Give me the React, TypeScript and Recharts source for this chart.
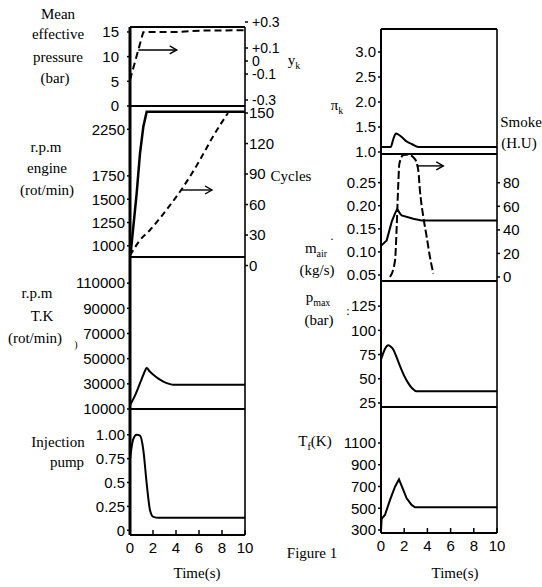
import React from 'react';
import { LineChart, Line, XAxis, YAxis, ReferenceLine } from 'recharts';

// ---------- data ----------
const timeTicks = [0, 2, 4, 6, 8, 10];

// left column
const mepTicks = [0, 5, 10, 15];
const ykTicks = [-0.3, -0.1, 0, 0.1, 0.3];
const ykLabels: Record<string, string> = { '-0.3': '-0.3', '-0.1': '-0.1', '0': '0', '0.1': '+0.1', '0.3': '+0.3' };
const ykDashed = [
  { t: 0, v: -0.146 }, { t: 1.15, v: 0.222 }, { t: 4, v: 0.223 }, { t: 6.5, v: 0.235 }, { t: 10, v: 0.236 },
];

const rpmTicks = [1000, 1250, 1500, 1750, 2250];
const rpmEngine = [
  { t: 0, v: 900 }, { t: 0.06, v: 920 }, { t: 0.29, v: 1205 }, { t: 0.58, v: 1563 }, { t: 0.87, v: 1993 },
  { t: 1.16, v: 2278 }, { t: 1.45, v: 2439 }, { t: 10, v: 2439 },
];
const cycleTicks = [0, 30, 60, 90, 120, 150];
const cycles = [
  { t: 0, v: 10 }, { t: 0.87, v: 25 }, { t: 1.74, v: 35 }, { t: 3.19, v: 55 }, { t: 4.61, v: 77 },
  { t: 6.09, v: 104 }, { t: 7.22, v: 127 }, { t: 8.52, v: 150 },
];

const tkTicks = [10000, 30000, 50000, 70000, 90000, 110000];
const rpmTK = [
  { t: 0, v: 13000 }, { t: 0.4, v: 20000 }, { t: 0.87, v: 30500 }, { t: 1.2, v: 38000 }, { t: 1.45, v: 42500 },
  { t: 1.7, v: 40000 }, { t: 2.03, v: 37200 }, { t: 2.5, v: 34000 }, { t: 2.9, v: 31800 }, { t: 3.4, v: 30000 },
  { t: 3.77, v: 29200 }, { t: 10, v: 29200 },
];

const injTicks = [0, 0.25, 0.5, 0.75, 1.0];
const injLabels: Record<string, string> = { '0': '0', '0.25': '0.25', '0.5': '0.5', '0.75': '0.75', '1': '1.00' };
const injection = [
  { t: 0, v: 0.74 }, { t: 0.15, v: 0.88 }, { t: 0.3, v: 0.96 }, { t: 0.58, v: 1.0 }, { t: 0.87, v: 0.99 },
  { t: 1.16, v: 0.84 }, { t: 1.45, v: 0.49 }, { t: 1.74, v: 0.21 }, { t: 2.03, v: 0.14 }, { t: 2.5, v: 0.13 },
  { t: 10, v: 0.13 },
];

// right column
const piTicks = [1.0, 1.5, 2.0, 2.5, 3.0];
const piK = [
  { t: 0, v: 1.1 }, { t: 0.84, v: 1.1 }, { t: 1.05, v: 1.25 }, { t: 1.29, v: 1.37 }, { t: 1.5, v: 1.35 },
  { t: 1.78, v: 1.3 }, { t: 2.22, v: 1.21 }, { t: 2.65, v: 1.16 }, { t: 3.22, v: 1.1 }, { t: 10, v: 1.1 },
];

const mairTicks = [0.05, 0.1, 0.15, 0.2, 0.25];
const mair = [
  { t: 0, v: 0.113 }, { t: 0.49, v: 0.125 }, { t: 0.92, v: 0.165 }, { t: 1.2, v: 0.183 }, { t: 1.4, v: 0.193 },
  { t: 1.64, v: 0.183 }, { t: 1.78, v: 0.179 }, { t: 2.78, v: 0.172 }, { t: 3.5, v: 0.168 }, { t: 10, v: 0.168 },
];
const smokeTicks = [0, 20, 40, 60, 80];
const smoke = [
  { t: 0.78, v: 0 }, { t: 1.21, v: 14 }, { t: 1.35, v: 42 }, { t: 1.49, v: 79 }, { t: 1.58, v: 96 },
  { t: 1.92, v: 103.5 }, { t: 2.35, v: 104 }, { t: 2.93, v: 100 }, { t: 3.22, v: 90 }, { t: 3.36, v: 73 },
  { t: 3.65, v: 51 }, { t: 3.94, v: 34 }, { t: 4.22, v: 17 }, { t: 4.51, v: 3 },
];

const pmaxTicks = [25, 50, 75, 100, 125];
const pmax = [
  { t: 0, v: 70 }, { t: 0.15, v: 75 }, { t: 0.35, v: 81 }, { t: 0.63, v: 84.5 }, { t: 0.85, v: 83 },
  { t: 1.07, v: 80 }, { t: 1.35, v: 72 }, { t: 1.64, v: 63 }, { t: 2.0, v: 53 }, { t: 2.35, v: 45.5 },
  { t: 2.7, v: 40 }, { t: 3.07, v: 37 }, { t: 10, v: 37 },
];

const tfTicks = [300, 500, 700, 900, 1100];
const tf = [
  { t: 0, v: 285 }, { t: 0.05, v: 400 }, { t: 0.15, v: 415 }, { t: 0.34, v: 438 }, { t: 0.78, v: 576 },
  { t: 1.21, v: 698 }, { t: 1.55, v: 766 }, { t: 1.92, v: 668 }, { t: 2.21, v: 591 }, { t: 2.64, v: 530 },
  { t: 2.93, v: 509 }, { t: 10, v: 509 },
];

// ---------- drawing ----------
const serif = '"Liberation Serif", "Times New Roman", serif';
const sans = '"Liberation Sans", Arial, sans-serif';

type Pt = { t: number; v: number };
type Series = { data: Pt[]; axis: 'l' | 'r'; dash?: string; width?: number; curve?: 'linear' | 'monotone' };
type Arrow = { axis: 'l' | 'r'; t1: number; t2: number; v: number };
type PanelDef = {
  left: number; top: number; right: number; bottom: number;
  LW: number; RW: number;
  lDomain: [number, number]; lTicks: number[]; lFmt?: (v: number) => string; lMargin?: number; lStroke?: number;
  rDomain?: [number, number]; rTicks?: number[]; rFmt?: (v: number) => string; rMargin?: number; rSize?: number;
  series: Series[]; arrows?: Arrow[]; showTime?: boolean;
};

const arrowShape = (p: any) => {
  const { x1, y1, x2, y2 } = p;
  return (
    <g>
      <line x1={x1} y1={y1} x2={x2} y2={y2} stroke="#000" strokeWidth={1.4} />
      <polyline points={`${x2 - 7},${y2 - 4} ${x2},${y2} ${x2 - 7},${y2 + 4}`} fill="none" stroke="#000" strokeWidth={1.4} />
    </g>
  );
};

function Panel(p: PanelDef) {
  const XH = p.showTime ? 35 : 2;
  const w = p.right - p.left;
  const h = p.bottom - p.top;
  const W = p.LW + w + p.RW;
  const H = 2 + h + XH;
  const tickStyle = { fill: '#000', fontSize: 15, fontFamily: sans };
  const rTickStyle = { ...tickStyle, fontSize: p.rSize ?? 15 };
  const hasR = !!p.rTicks;
  return (
    <div style={{ position: 'absolute', left: p.left - p.LW, top: p.top - 2 }}>
      <LineChart width={W} height={H} margin={{ top: 2, right: 0, bottom: 0, left: 0 }}>
        <XAxis
          type="number" dataKey="t" domain={[0, 10]} allowDataOverflow ticks={timeTicks} interval={0} height={XH}
          tick={p.showTime ? tickStyle : false} tickSize={-5} tickMargin={12}
          axisLine={{ stroke: '#000', strokeWidth: 2 }} tickLine={{ stroke: '#000', strokeWidth: 1.5 }}
        />
        <YAxis
          yAxisId="l" type="number" domain={p.lDomain} allowDataOverflow ticks={p.lTicks} interval={0} width={p.LW}
          tick={tickStyle} tickFormatter={p.lFmt} tickSize={3} tickMargin={p.lMargin ?? 2}
          axisLine={{ stroke: '#000', strokeWidth: p.lStroke ?? 2 }} tickLine={{ stroke: '#000', strokeWidth: 1.5 }}
        />
        <YAxis
          yAxisId="r" orientation="right" type="number" domain={p.rDomain ?? [0, 1]} allowDataOverflow
          ticks={p.rTicks ?? [0.5]} interval={0} width={p.RW}
          tick={hasR ? rTickStyle : false} tickFormatter={p.rFmt} tickSize={3} tickMargin={p.rMargin ?? 2}
          axisLine={{ stroke: '#000', strokeWidth: 1.6 }} tickLine={hasR ? { stroke: '#000', strokeWidth: 1.5 } : false}
        />
        <ReferenceLine yAxisId="l" y={p.lDomain[1]} stroke="#000" strokeWidth={2} ifOverflow="visible" />
        {p.series.map((s, i) => (
          <Line
            key={i} data={s.data} dataKey="v" yAxisId={s.axis} type={s.curve ?? 'monotone'}
            stroke="#000" strokeWidth={s.width ?? 2} strokeDasharray={s.dash} dot={false}
            activeDot={false} isAnimationActive={false}
          />
        ))}
        {(p.arrows ?? []).map((a, i) => (
          <ReferenceLine
            key={'a' + i} yAxisId={a.axis} segment={[{ x: a.t1, y: a.v }, { x: a.t2, y: a.v }]}
            shape={arrowShape} ifOverflow="visible"
          />
        ))}
      </LineChart>
    </div>
  );
}

type Lbl = { x: number; y: number; t: React.ReactNode; size?: number };
const labels: Lbl[] = [
  { x: 58, y: 14, t: 'Mean' }, { x: 58, y: 34, t: 'effective' }, { x: 58, y: 57, t: 'pressure' }, { x: 55, y: 78, t: '(bar)' },
  { x: 46, y: 147, t: 'r.p.m' }, { x: 47, y: 168, t: 'engine' }, { x: 47, y: 190, t: '(rot/min)' },
  { x: 37, y: 293, t: 'r.p.m' }, { x: 42, y: 316, t: 'T.K' }, { x: 35, y: 338, t: '(rot/min)' },
  { x: 76, y: 345, t: ')', size: 10 },
  { x: 58, y: 442, t: 'Injection' }, { x: 67, y: 462, t: 'pump' },
  { x: 197, y: 573, t: 'Time(s)' },
  { x: 294, y: 62, t: <span>y<sub style={{ fontSize: 10 }}>k</sub></span> },
  { x: 291, y: 176, t: 'Cycles' },
  { x: 337, y: 107, t: <span>π<sub style={{ fontSize: 10 }}>k</sub></span> },
  { x: 521, y: 122, t: 'Smoke' }, { x: 519, y: 143, t: '(H.U)' },
  { x: 332, y: 236, t: '.', size: 12 },
  { x: 316, y: 250, t: <span>m<sub style={{ fontSize: 10 }}>air</sub></span> },
  { x: 317, y: 270, t: '(kg/s)' },
  { x: 318, y: 299, t: <span>p<sub style={{ fontSize: 10 }}>max</sub></span> },
  { x: 348, y: 311, t: ':', size: 12 },
  { x: 319, y: 320, t: '(bar)' },
  { x: 315, y: 443, t: <span>T<sub style={{ fontSize: 10 }}>f</sub>(K)</span> },
  { x: 312, y: 553, t: 'Figure 1' },
  { x: 455, y: 573, t: 'Time(s)' },
];

export default function App() {
  const L = { left: 130, right: 245, LW: 60, RW: 60 };
  const R = { left: 381, right: 497, LW: 60, RW: 45 };
  return (
    <div style={{ position: 'absolute', left: 0, top: 0, width: 542, height: 587, background: '#fff', overflow: 'hidden' }}>
      <style>{`.recharts-surface{overflow:visible}.recharts-wrapper{overflow:visible}`}</style>
      {/* left column */}
      <Panel {...L} top={27} bottom={106} lDomain={[0, 16]} lTicks={mepTicks} lMargin={8} lStroke={3}
        rDomain={[-0.346, 0.2615]} rTicks={ykTicks} rFmt={(v) => ykLabels[String(v)] ?? String(v)} rMargin={4} rSize={14}
        series={[{ data: ykDashed, axis: 'r', dash: '7 4', curve: 'linear' }]}
        arrows={[{ axis: 'r', t1: 0.72, t2: 4.06, v: 0.085 }]} />
      <Panel {...L} top={106} bottom={257} lDomain={[880, 2500]} lTicks={rpmTicks} lStroke={3}
        rDomain={[8.4, 156.9]} rTicks={cycleTicks} rMargin={1}
        series={[
          { data: rpmEngine, axis: 'l', width: 2.5, curve: 'linear' },
          { data: cycles, axis: 'r', dash: '6 4', curve: 'monotone' },
        ]}
        arrows={[{ axis: 'r', t1: 4.52, t2: 7.13, v: 74.3 }]} />
      <Panel {...L} top={257} bottom={409} lDomain={[10000, 130800]} lTicks={tkTicks} lStroke={3}
        series={[{ data: rpmTK, axis: 'l' }]} />
      <Panel {...L} top={409} bottom={535} lDomain={[-0.05, 1.27]} lTicks={injTicks}
        lFmt={(v) => injLabels[String(v)] ?? String(v)} lStroke={3}
        series={[{ data: injection, axis: 'l' }]} showTime />

      {/* right column */}
      <Panel {...R} top={29} bottom={154} lDomain={[0.96, 3.46]} lTicks={piTicks} lFmt={(v) => v.toFixed(1)}
        series={[{ data: piK, axis: 'l' }]} />
      <Panel {...R} top={154} bottom={281} lDomain={[0.037, 0.312]} lTicks={mairTicks} lFmt={(v) => v.toFixed(2)}
        rDomain={[-3.4, 104.4]} rTicks={smokeTicks} rMargin={3}
        series={[
          { data: mair, axis: 'l', curve: 'linear' },
          { data: smoke, axis: 'r', dash: '8 3', curve: 'monotone' },
        ]}
        arrows={[{ axis: 'r', t1: 3.08, t2: 5.37, v: 94.3 }]} />
      <Panel {...R} top={281} bottom={407} lDomain={[20.8, 151]} lTicks={pmaxTicks}
        series={[{ data: pmax, axis: 'l' }]} />
      <Panel {...R} top={407} bottom={533} lDomain={[272, 1431]} lTicks={tfTicks}
        series={[{ data: tf, axis: 'l', curve: 'linear' }]} showTime />

      {labels.map((l, i) => (
        <div key={i} style={{
          position: 'absolute', left: l.x, top: l.y, transform: 'translate(-50%, -50%)',
          fontFamily: serif, fontSize: l.size ?? 15, lineHeight: 1, whiteSpace: 'nowrap', color: '#000',
        }}>{l.t}</div>
      ))}
    </div>
  );
}
